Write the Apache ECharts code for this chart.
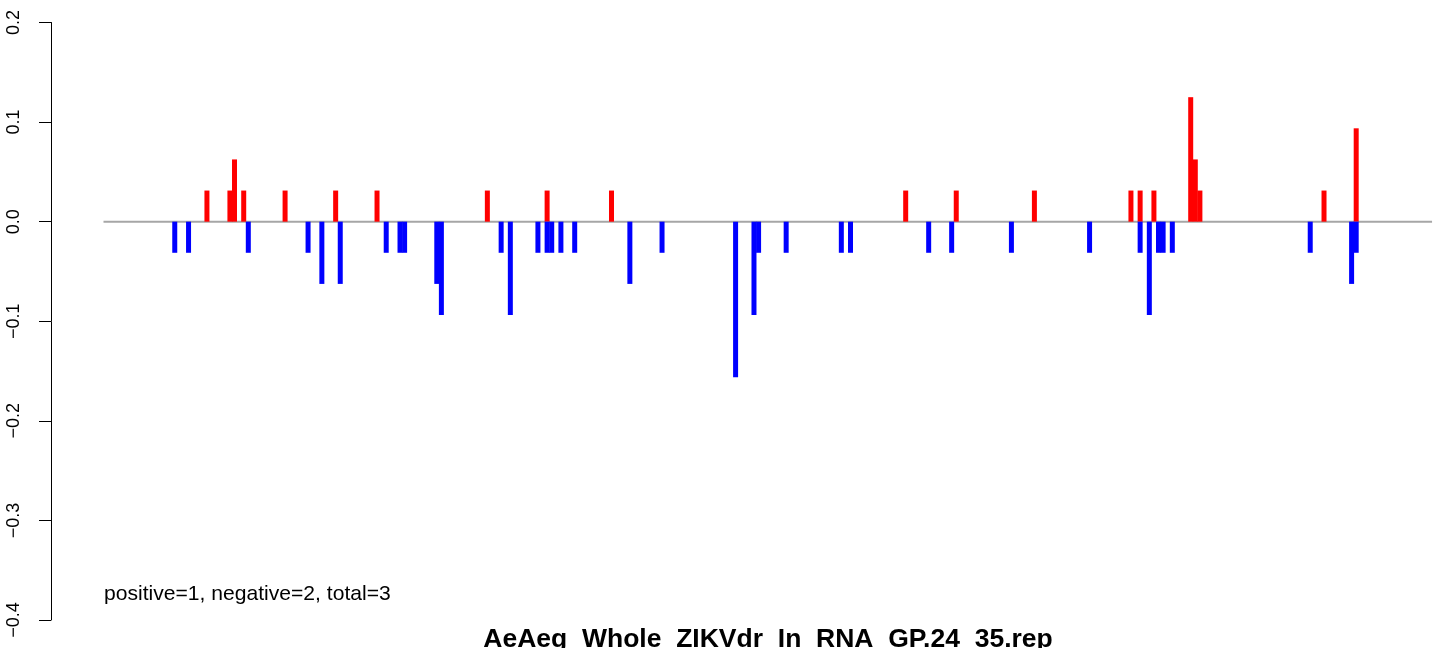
<!DOCTYPE html>
<html>
<head>
<meta charset="utf-8">
<script src="https://cdn.jsdelivr.net/npm/echarts@6/dist/echarts.min.js"></script>
<style>
html,body{margin:0;padding:0;background:#fff;}
#chart{width:1444px;height:648px;}
</style>
</head>
<body>
<div id="chart"></div>
<script>
// positions along the sequence and fractions (positive = red, negative = blue)
const posX = [23, 28, 29, 31, 40, 51, 60, 84, 97, 111, 175, 186, 203, 224, 226, 229, 237, 238, 239, 266, 273];
const posY = [0.03125, 0.03125, 0.0625, 0.03125, 0.03125, 0.03125, 0.03125, 0.03125, 0.03125, 0.03125, 0.03125, 0.03125, 0.03125, 0.03125, 0.03125, 0.03125, 0.125, 0.0625, 0.03125, 0.03125, 0.09375];
const negX = [16, 19, 32, 45, 48, 52, 62, 65, 66, 73, 74, 87, 89, 95, 97, 98, 100, 103, 115, 122, 138, 142, 143, 149, 161, 163, 180, 185, 198, 215, 226, 228, 230, 231, 233, 263, 272, 273];
const negY = [-0.03125, -0.03125, -0.03125, -0.03125, -0.0625, -0.0625, -0.03125, -0.03125, -0.03125, -0.0625, -0.09375, -0.03125, -0.09375, -0.03125, -0.03125, -0.03125, -0.03125, -0.03125, -0.0625, -0.03125, -0.15625, -0.09375, -0.03125, -0.03125, -0.03125, -0.03125, -0.03125, -0.03125, -0.03125, -0.03125, -0.03125, -0.09375, -0.03125, -0.03125, -0.03125, -0.03125, -0.0625, -0.03125];
const seqStart = 0.5;
const seqEnd = 289.5;
const yTicks = [-0.4, -0.3, -0.2, -0.1, 0.0, 0.1, 0.2];
const titleText = 'AeAeg_Whole_ZIKVdr_In_RNA_GP.24_35.rep';
const noteText = 'positive=1, negative=2, total=3';

const FONT = '"Liberation Sans", Arial, Helvetica, sans-serif';
const chart = echarts.init(document.getElementById('chart'), null, {renderer: 'canvas'});

const option = {
  animation: false,
  backgroundColor: '#ffffff',
  title: [
    {
      text: titleText,
      left: 768,
      top: 626.5,
      padding: 0,
      textAlign: 'center',
      textStyle: {fontFamily: FONT, fontSize: 26.5, fontWeight: 'bold', color: '#000'}
    },
    {
      text: noteText,
      left: 104,
      top: 583.5,
      padding: 0,
      textStyle: {fontFamily: FONT, fontSize: 21.1, fontWeight: 'normal', color: '#000'}
    }
  ],
  grid: {left: 51, right: 0, top: 22.5, bottom: 28, containLabel: false, outerBoundsMode: 'none'},
  xAxis: {
    type: 'value',
    min: -10.92,
    max: 292.1,
    show: false
  },
  yAxis: {
    type: 'value',
    min: yTicks[0],
    max: yTicks[yTicks.length - 1],
    interval: 0.1,
    splitLine: {show: false},
    axisLine: {show: true, onZero: false, lineStyle: {color: '#000', width: 1}},
    axisTick: {show: true, length: 12, lineStyle: {color: '#000', width: 1}},
    axisLabel: {
      rotate: 90,
      margin: 27.5,
      fontFamily: FONT,
      fontSize: 18,
      color: '#000',
      formatter: function (v) {
        const s = Math.abs(v).toFixed(1);
        return (v < -1e-9 ? '\u2212' : '') + s;
      }
    }
  },
  series: [
    {
      type: 'line',
      data: [[seqStart, 0], [seqEnd, 0]],
      symbol: 'none',
      lineStyle: {color: '#a6a6a6', width: 2},
      z: 1,
      silent: true
    },
    {
      name: 'positive',
      type: 'bar',
      data: posX.map((x, i) => [x, posY[i]]),
      barWidth: 5,
      barGap: '-100%',
      itemStyle: {color: '#ff0000'},
      z: 3
    },
    {
      name: 'negative',
      type: 'bar',
      data: negX.map((x, i) => [x, negY[i]]),
      barWidth: 5,
      barGap: '-100%',
      itemStyle: {color: '#0000ff'},
      z: 3
    }
  ]
};
chart.setOption(option);
</script>
</body>
</html>
